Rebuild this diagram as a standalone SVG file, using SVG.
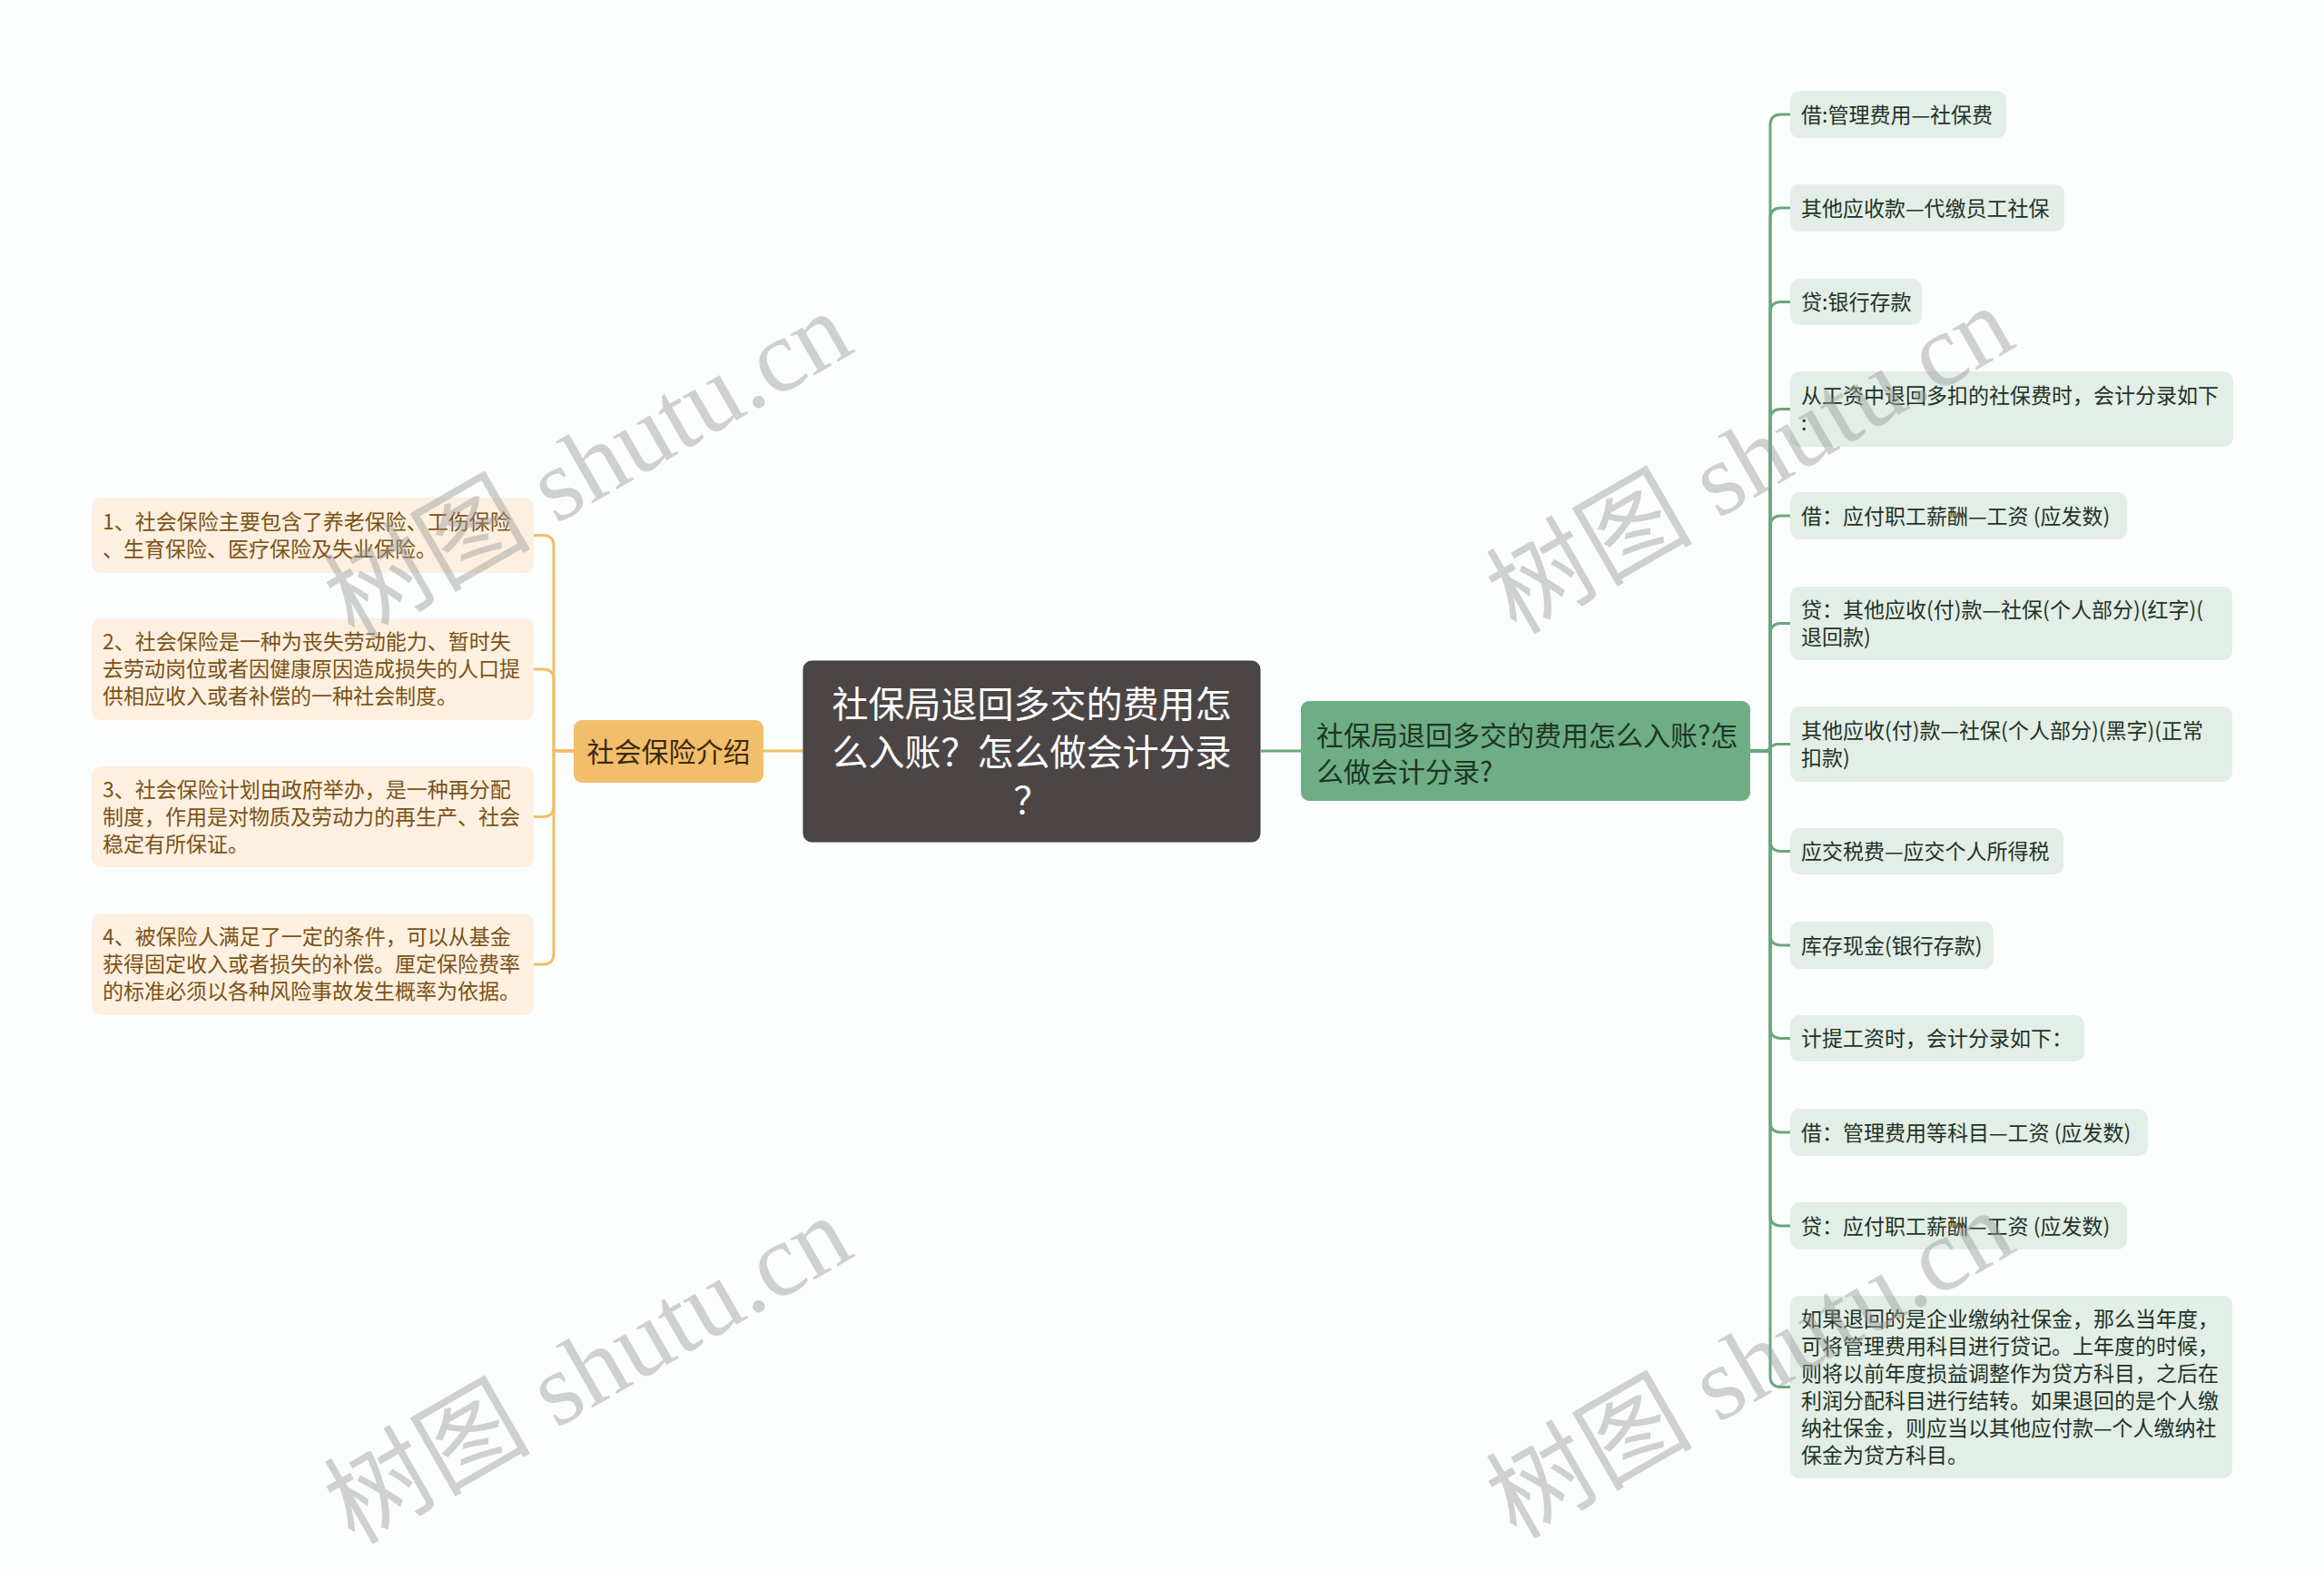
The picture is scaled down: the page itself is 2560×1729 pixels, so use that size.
<svg xmlns="http://www.w3.org/2000/svg" width="2560" height="1729" viewBox="0 0 2560 1729">
<style>
.bg{fill:#fcfefe}
.root{fill:#4b4645;stroke:#3d3838;stroke-width:1}
.rootT{font-family:"Noto Sans CJK SC","Noto Sans",sans-serif;font-size:40px;fill:#ffffff;text-anchor:middle}
.orange{fill:#f2be6b}
.orangeT{font-family:"Noto Sans CJK SC","Noto Sans",sans-serif;font-size:30px;fill:#3b2a10;text-anchor:middle}
.green{fill:#6fae84}
.greenT{font-family:"Noto Sans CJK SC","Noto Sans",sans-serif;font-size:30px;fill:#1d3526}
.lleaf{fill:#fdf0e1}
.lT{font-family:"Noto Sans CJK SC","Noto Sans",sans-serif;font-size:23px;fill:#7b5215}
.rleaf{fill:#e3eee6}
.rT{font-family:"Noto Sans CJK SC","Noto Sans",sans-serif;font-size:23px;fill:#1f3326}
.co{fill:none;stroke:#eec068;stroke-width:3}
.cg{fill:none;stroke:#6aa67e;stroke-width:3}
.wm{font-family:"Liberation Serif","Noto Sans CJK SC",serif;font-size:114px;fill:#9a9a9a;opacity:0.45}
</style>
<rect class="bg" x="0" y="0" width="2560" height="1729"/>

<g id="connectors">
<path class="co" d="M885 827 H841"/>
<path class="cg" d="M1389 827 H1433"/>
<path class="co" d="M632 827 H610 V601.5 Q610 589.5 598 589.5 H588"/>
<path class="co" d="M632 827 H610 V749 Q610 737 598 737 H588"/>
<path class="co" d="M632 827 H610 V887.5 Q610 899.5 598 899.5 H588"/>
<path class="co" d="M632 827 H610 V1050 Q610 1062 598 1062 H588"/>
<path class="cg" d="M1928 827 H1950 V138 Q1950 126 1962 126 H1972"/>
<path class="cg" d="M1928 827 H1950 V241 Q1950 229 1962 229 H1972"/>
<path class="cg" d="M1928 827 H1950 V344.5 Q1950 332.5 1962 332.5 H1972"/>
<path class="cg" d="M1928 827 H1950 V462.5 Q1950 450.5 1962 450.5 H1972"/>
<path class="cg" d="M1928 827 H1950 V580 Q1950 568 1962 568 H1972"/>
<path class="cg" d="M1928 827 H1950 V698.5 Q1950 686.5 1962 686.5 H1972"/>
<path class="cg" d="M1928 827 H1944 C1950 827 1950 819.5 1958 819.5 H1972"/>
<path class="cg" d="M1928 827 H1950 V925.5 Q1950 937.5 1962 937.5 H1972"/>
<path class="cg" d="M1928 827 H1950 V1029 Q1950 1041 1962 1041 H1972"/>
<path class="cg" d="M1928 827 H1950 V1131.5 Q1950 1143.5 1962 1143.5 H1972"/>
<path class="cg" d="M1928 827 H1950 V1235 Q1950 1247 1962 1247 H1972"/>
<path class="cg" d="M1928 827 H1950 V1338 Q1950 1350 1962 1350 H1972"/>
<path class="cg" d="M1928 827 H1950 V1515.5 Q1950 1527.5 1962 1527.5 H1972"/>
</g>

<g id="root">
<rect class="root" x="885" y="728" width="503" height="199" rx="9"/>
<text class="rootT" x="1136.5" y="790">社保局退回多交的费用怎</text>
<text class="rootT" x="1136.5" y="843">么入账？怎么做会计分录</text>
<text class="rootT" x="1136.5" y="896">？</text>
</g>

<g id="n-shehui">
<rect class="orange" x="632" y="793" width="209" height="69" rx="9"/>
<text class="orangeT" x="736.5" y="838.5">社会保险介绍</text>
</g>

<g id="n-main">
<rect class="green" x="1433" y="772" width="495" height="110" rx="9"/>
<text class="greenT" x="1450" y="821">社保局退回多交的费用怎么入账?怎</text>
<text class="greenT" x="1450" y="861">么做会计分录?</text>
</g>

<g id="l1">
<rect class="lleaf" x="101" y="548" width="487" height="83" rx="10"/>
<text class="lT" x="113" y="583">1、社会保险主要包含了养老保险、工伤保险</text>
<text class="lT" x="113" y="613">、生育保险、医疗保险及失业保险。</text>
</g>
<g id="l2">
<rect class="lleaf" x="101" y="681" width="487" height="112" rx="10"/>
<text class="lT" x="113" y="715">2、社会保险是一种为丧失劳动能力、暂时失</text>
<text class="lT" x="113" y="745">去劳动岗位或者因健康原因造成损失的人口提</text>
<text class="lT" x="113" y="775">供相应收入或者补偿的一种社会制度。</text>
</g>
<g id="l3">
<rect class="lleaf" x="101" y="844" width="487" height="111" rx="10"/>
<text class="lT" x="113" y="878">3、社会保险计划由政府举办，是一种再分配</text>
<text class="lT" x="113" y="908">制度，作用是对物质及劳动力的再生产、社会</text>
<text class="lT" x="113" y="938">稳定有所保证。</text>
</g>
<g id="l4">
<rect class="lleaf" x="101" y="1006" width="487" height="112" rx="10"/>
<text class="lT" x="113" y="1040">4、被保险人满足了一定的条件，可以从基金</text>
<text class="lT" x="113" y="1070">获得固定收入或者损失的补偿。厘定保险费率</text>
<text class="lT" x="113" y="1100">的标准必须以各种风险事故发生概率为依据。</text>
</g>

<g id="r1">
<rect class="rleaf" x="1972" y="100" width="238" height="52" rx="10"/>
<text class="rT" x="1984" y="134.5">借:管理费用—社保费</text>
</g>
<g id="r2">
<rect class="rleaf" x="1972" y="203" width="302" height="52" rx="10"/>
<text class="rT" x="1984" y="237.5">其他应收款—代缴员工社保</text>
</g>
<g id="r3">
<rect class="rleaf" x="1972" y="307" width="145" height="51" rx="10"/>
<text class="rT" x="1984" y="341">贷:银行存款</text>
</g>
<g id="r4">
<rect class="rleaf" x="1972" y="409" width="488" height="83" rx="10"/>
<text class="rT" x="1984" y="444">从工资中退回多扣的社保费时，会计分录如下</text>
<text class="rT" x="1984" y="474">:</text>
</g>
<g id="r5">
<rect class="rleaf" x="1972" y="542" width="371" height="52" rx="10"/>
<text class="rT" x="1984" y="576.5">借：应付职工薪酬—工资 (应发数)</text>
</g>
<g id="r6">
<rect class="rleaf" x="1972" y="646" width="487" height="81" rx="10"/>
<text class="rT" x="1984" y="680">贷：其他应收(付)款—社保(个人部分)(红字)(</text>
<text class="rT" x="1984" y="710">退回款)</text>
</g>
<g id="r7">
<rect class="rleaf" x="1972" y="778" width="487" height="83" rx="10"/>
<text class="rT" x="1984" y="813">其他应收(付)款—社保(个人部分)(黑字)(正常</text>
<text class="rT" x="1984" y="843">扣款)</text>
</g>
<g id="r8">
<rect class="rleaf" x="1972" y="912" width="301" height="51" rx="10"/>
<text class="rT" x="1984" y="946">应交税费—应交个人所得税</text>
</g>
<g id="r9">
<rect class="rleaf" x="1972" y="1015" width="224" height="52" rx="10"/>
<text class="rT" x="1984" y="1049.5">库存现金(银行存款)</text>
</g>
<g id="r10">
<rect class="rleaf" x="1972" y="1118" width="324" height="51" rx="10"/>
<text class="rT" x="1984" y="1152">计提工资时，会计分录如下：</text>
</g>
<g id="r11">
<rect class="rleaf" x="1972" y="1221" width="394" height="52" rx="10"/>
<text class="rT" x="1984" y="1255.5">借：管理费用等科目—工资 (应发数)</text>
</g>
<g id="r12">
<rect class="rleaf" x="1972" y="1324" width="371" height="52" rx="10"/>
<text class="rT" x="1984" y="1358.5">贷：应付职工薪酬—工资 (应发数)</text>
</g>
<g id="r13">
<rect class="rleaf" x="1972" y="1427" width="487" height="201" rx="10"/>
<text class="rT" x="1984" y="1461">如果退回的是企业缴纳社保金，那么当年度，</text>
<text class="rT" x="1984" y="1491">可将管理费用科目进行贷记。上年度的时候，</text>
<text class="rT" x="1984" y="1521">则将以前年度损益调整作为贷方科目，之后在</text>
<text class="rT" x="1984" y="1551">利润分配科目进行结转。如果退回的是个人缴</text>
<text class="rT" x="1984" y="1581">纳社保金，则应当以其他应付款—个人缴纳社</text>
<text class="rT" x="1984" y="1611">保金为贷方科目。</text>
</g>

<g id="watermarks">
<text class="wm" transform="translate(390 706) rotate(-30)">树图 shutu.cn</text>
<text class="wm" transform="translate(1670 700) rotate(-30)">树图 shutu.cn</text>
<text class="wm" transform="translate(390 1702) rotate(-30)">树图 shutu.cn</text>
<text class="wm" transform="translate(1670 1696) rotate(-30)">树图 shutu.cn</text>
</g>
</svg>
